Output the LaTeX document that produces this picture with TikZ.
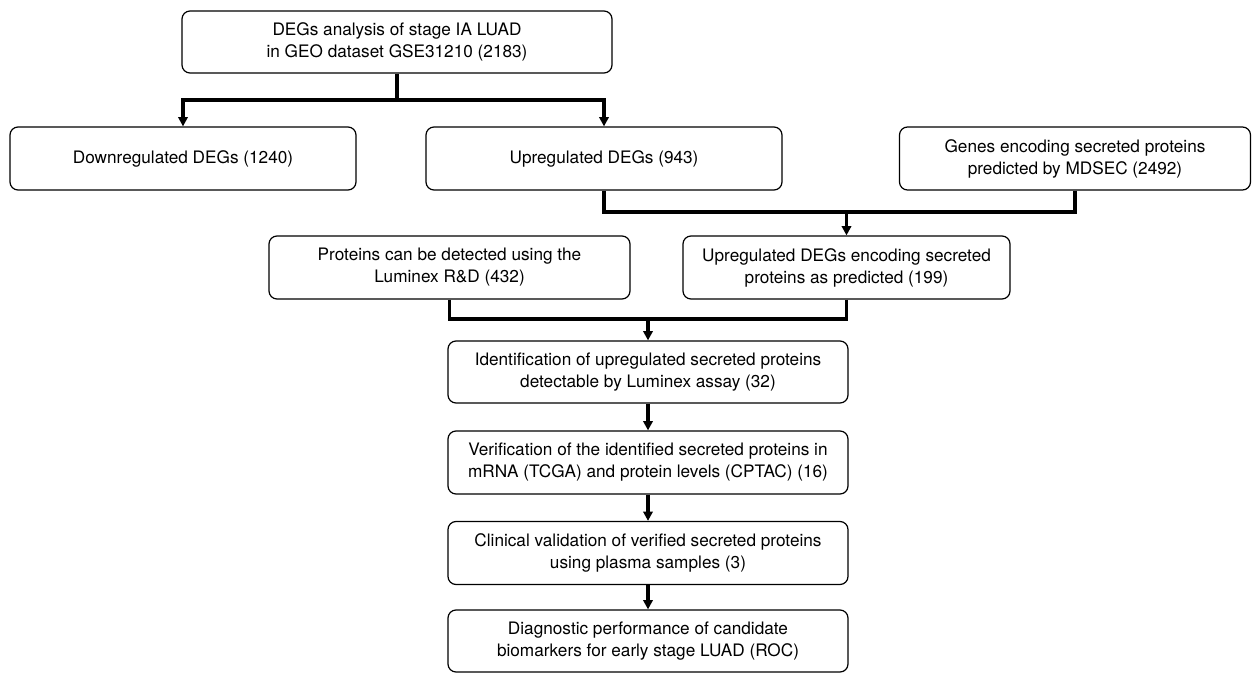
\documentclass[tikz,border=0pt]{standalone}
\usepackage{fontspec}
\setmainfont{TeX Gyre Heros}
\usetikzlibrary{arrows.meta}
\begin{document}
\begin{tikzpicture}[x=0.75pt,y=-0.75pt,
  box/.style={draw, line width=0.9pt, rounded corners=6pt, align=center, inner sep=2pt,
    font=\fontsize{12.9}{16.5}\selectfont},
  link/.style={line width=2.4pt},
  flow/.style={line width=2.4pt, -{Triangle[width=7pt,length=7pt]}}]
\useasboundingbox (0,0) rectangle (1254,674);

\node[box, minimum width=322.5pt, minimum height=46.5pt] (top) at (397,42)
  {DEGs analysis of stage IA LUAD\\in GEO dataset GSE31210 (2183)};
\node[box, minimum width=259.5pt, minimum height=47.25pt] (down) at (183,158.5)
  {Downregulated DEGs (1240)};
\node[box, minimum width=267pt, minimum height=47.25pt] (up) at (604,158.5)
  {Upregulated DEGs (943)};
\node[box, minimum width=263.25pt, minimum height=47.25pt] (genes) at (1075,158.5)
  {Genes encoding secreted proteins\\predicted by MDSEC (2492)};
\node[box, minimum width=270.75pt, minimum height=47.25pt] (prot) at (449.5,267.5)
  {Proteins can be detected using the\\Luminex R\&D (432)};
\node[box, minimum width=245.25pt, minimum height=47.25pt] (upenc) at (846.5,267.5)
  {Upregulated DEGs encoding secreted\\proteins as predicted (199)};
\node[box, minimum width=300pt, minimum height=46.5pt] (ident) at (648,372)
  {Identification of upregulated secreted proteins\\detectable by Luminex assay (32)};
\node[box, minimum width=300pt, minimum height=47.25pt] (verif) at (648,462.5)
  {Verification of the identified secreted proteins in\\mRNA (TCGA) and protein levels (CPTAC) (16)};
\node[box, minimum width=300pt, minimum height=47.25pt] (clin) at (648,553)
  {Clinical validation of verified secreted proteins\\using plasma samples (3)};
\node[box, minimum width=300pt, minimum height=46.5pt] (diag) at (648,641)
  {Diagnostic performance of candidate\\biomarkers for early stage LUAD (ROC)};

\coordinate (j1) at (397,100);
\coordinate (j2) at (846.5,212);
\coordinate (j3) at (648,319);

\draw[link] (top.south) -- (j1);
\draw[flow] (j1) -| (down.north);
\draw[flow] (j1) -| (up.north);

\draw[link] (up.south) |- (j2);
\draw[link] (genes.south) |- (j2);
\draw[flow] (j2) -- (upenc.north);

\draw[link] (prot.south) |- (j3);
\draw[link] (upenc.south) |- (j3);
\draw[flow] (j3) -- (ident.north);

\draw[flow] (ident) -- (verif);
\draw[flow] (verif) -- (clin);
\draw[flow] (clin) -- (diag);
\end{tikzpicture}
\end{document}
